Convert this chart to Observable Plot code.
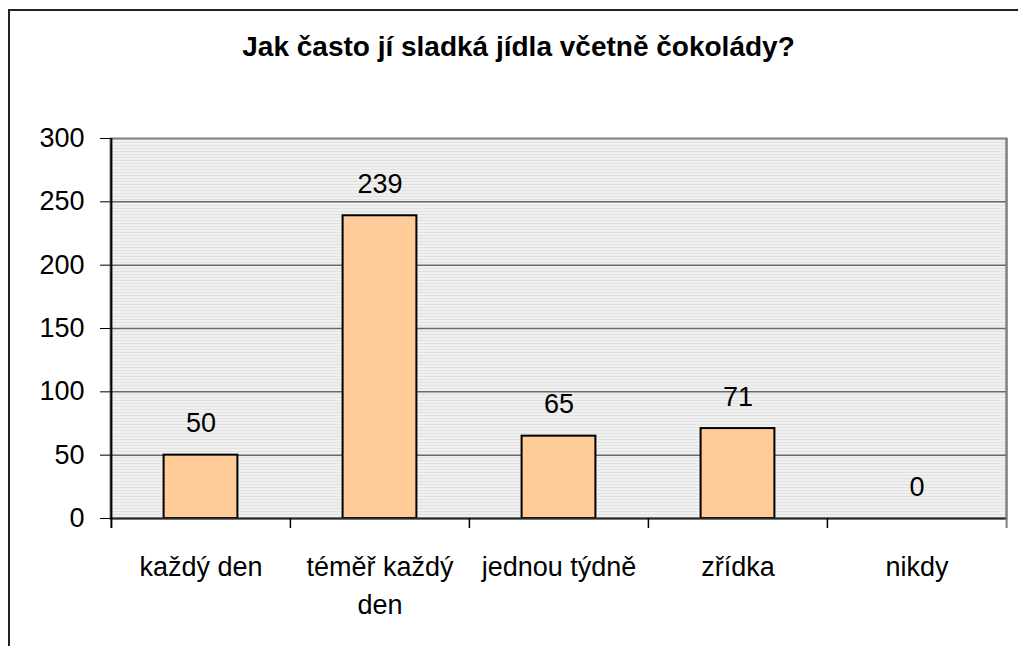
<!DOCTYPE html>
<html>
<head>
<meta charset="utf-8">
<script src="https://cdn.jsdelivr.net/npm/d3@7"></script>
<script src="https://cdn.jsdelivr.net/npm/@observablehq/plot@0.6"></script>
<style>
  html, body { margin: 0; padding: 0; background: #fff; }
  #wrap { position: relative; width: 1018px; height: 646px; overflow: hidden; font-family: "Liberation Sans", Arial, sans-serif; }
  #border { position: absolute; left: 8px; top: 9px; width: 1100px; height: 700px; border-left: 2px solid #222; border-top: 2px solid #222; box-sizing: border-box; }
  #title { position: absolute; left: 0; top: 33px; width: 1037px; text-align: center; font-weight: bold; font-size: 28px; line-height: 28px; color: #000; }
  #chart { position: absolute; left: 0; top: 0; }
</style>
</head>
<body>
<div id="wrap">
  <div id="border"></div>
  <div id="title">Jak často jí sladká jídla včetně čokolády?</div>
  <div id="chart"></div>
</div>
<script>
const categories = ["každý den", "téměř každý den", "jednou týdně", "zřídka", "nikdy"];
const categoryLabels = ["každý den", "téměř každý\nden", "jednou týdně", "zřídka", "nikdy"];
const values = [50, 239, 65, 71, 0];
const yTicks = [0, 50, 100, 150, 200, 250, 300];

const data = categories.map((c, i) => ({c, v: values[i]}));
const labelOf = new Map(categories.map((c, i) => [c, categoryLabels[i]]));

const W = 1018, H = 646, mL = 110, mR = 12, mT = 138, mB = 128;
const half = (W - mL - mR) / categories.length / 2;
const barInset = half - 37;

const svg = Plot.plot({
  width: W, height: H,
  marginLeft: mL, marginRight: mR, marginTop: mT, marginBottom: mB,
  style: {fontFamily: "'Liberation Sans', Arial, sans-serif", fontSize: "27px", color: "#000", background: "transparent", overflow: "visible"},
  x: {type: "band", domain: categories, padding: 0, label: null},
  y: {domain: [0, 300], label: null},
  marks: [
    Plot.frame({fill: "url(#hatch)", stroke: "#808080", strokeWidth: 2}),
    Plot.ruleY(yTicks.filter(t => t > 0 && t < 300), {stroke: "#6a6a6a", strokeWidth: 1.5}),
    Plot.barY(data, {filter: d => d.v > 0, x: "c", y: "v", fill: "#FFCC99", stroke: "#000", strokeWidth: 2, insetLeft: barInset, insetRight: barInset}),
    Plot.text(data, {x: "c", y: "v", text: d => String(d.v), dy: -23, lineAnchor: "bottom", fontSize: 27, fill: "#000"}),
    Plot.ruleY([0], {stroke: "#2a2a2a", strokeWidth: 2}),
    Plot.ruleX(categories.slice(1), {x: d => d, dx: -half, y1: 0, y2: 0, insetBottom: -10, stroke: "#000", strokeWidth: 1.5}),
    Plot.ruleX(categories.slice(-1), {x: d => d, dx: half, y1: 300, y2: 0, insetBottom: -10, stroke: "#808080", strokeWidth: 2}),
    Plot.ruleX(categories.slice(0, 1), {x: d => d, dx: -half, y1: 300, y2: 0, insetBottom: -10, stroke: "#000", strokeWidth: 2}),
    Plot.axisY({ticks: yTicks, tickSize: 10, tickPadding: 16, fontSize: 27, stroke: "#000", label: null}),
    Plot.axisX({tickSize: 0, tickPadding: 31, fontSize: 27, lineHeight: 1.4, tickFormat: d => labelOf.get(d), label: null})
  ]
});

d3.select(svg).insert("defs", ":first-child").html(
  '<pattern id="hatch" patternUnits="userSpaceOnUse" width="2" height="3">' +
  '<rect width="2" height="3" fill="#ffffff"/>' +
  '<rect x="0" y="0" width="1" height="2" fill="#c4c4c4"/>' +
  '</pattern>'
);

document.getElementById("chart").appendChild(svg);
</script>
</body>
</html>
